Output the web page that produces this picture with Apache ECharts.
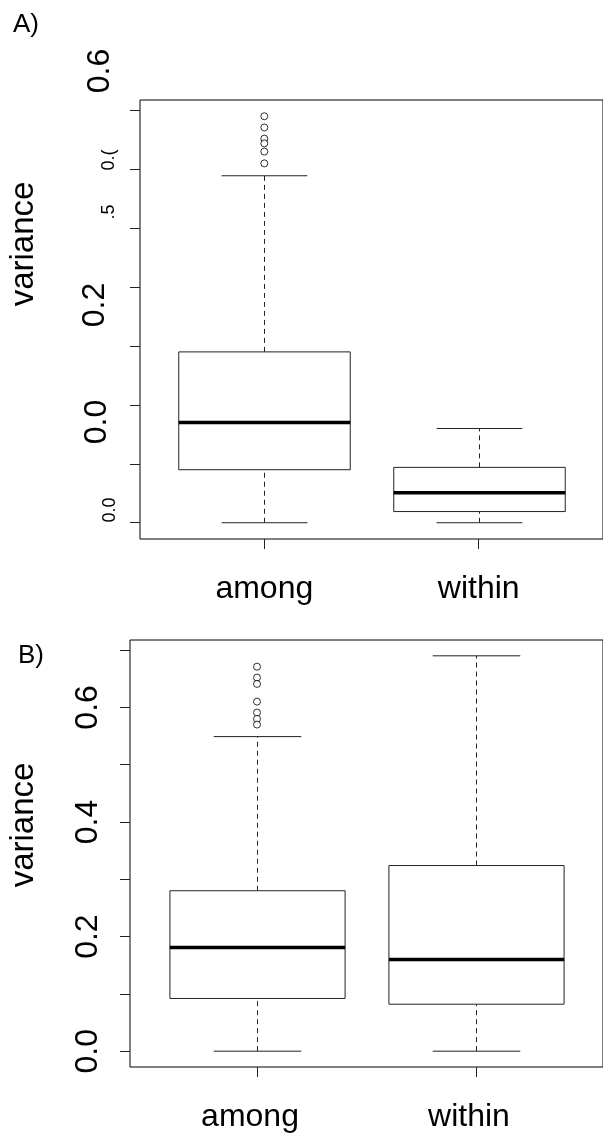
<!DOCTYPE html>
<html>
<head>
<meta charset="utf-8">
<script src="https://cdn.jsdelivr.net/npm/echarts@6/dist/echarts.min.js"></script>
<style>
  html, body { margin: 0; padding: 0; background: #fff; }
  #chart { width: 603px; height: 1135px; }
</style>
</head>
<body>
<div id="chart"></div>
<script>
// groups on the x axis
var groups = ['among', 'within'];

// panel A: [low whisker, Q1, median, Q3, high whisker] per group
var statsA_among = [0, 0.090, 0.170, 0.290, 0.589];
var statsA_within = [0, 0.019, 0.051, 0.094, 0.160];
var outliersA_among = [0.690, 0.671, 0.652, 0.644, 0.630, 0.610];

// panel B
var statsB_among = [0, 0.092, 0.181, 0.280, 0.549];
var statsB_within = [0, 0.082, 0.160, 0.324, 0.690];
var outliersB_among = [0.671, 0.652, 0.641, 0.610, 0.591, 0.580, 0.570];

// y ticks (every 0.1) and the labels that R kept in panel B
var yTicks = [0, 0.1, 0.2, 0.3, 0.4, 0.5, 0.6, 0.7];
var yLabelsB = [0, 0.2, 0.4, 0.6];
// panel A's tick labels came out scrambled in the original picture
var yLabelsA = ['0.6', '0.(', '.5', '0.2', '0.0', '0.0'];

var FONT = '"Liberation Sans", Arial, sans-serif';

var myChart = echarts.init(document.getElementById('chart'));

// draws one R style boxplot: dashed whiskers, caps, box, thick median
function renderBox(params, api) {
  var x = api.value(0);
  var pLo = api.coord([x, api.value(1)]);
  var pQ1 = api.coord([x, api.value(2)]);
  var pMed = api.coord([x, api.value(3)]);
  var pQ3 = api.coord([x, api.value(4)]);
  var pHi = api.coord([x, api.value(5)]);
  var half = api.size([0.4, 0])[0];
  var capHalf = api.size([0.2, 0])[0];
  var cx = Math.round(pMed[0]) + 0.5;
  var dash = { stroke: '#222', lineWidth: 1, lineDash: [5, 4] };
  var solid = { stroke: '#222', lineWidth: 1 };
  return {
    type: 'group',
    children: [
      { type: 'line', shape: { x1: cx, y1: pLo[1], x2: cx, y2: pQ1[1] }, style: dash },
      { type: 'line', shape: { x1: cx, y1: pQ3[1], x2: cx, y2: pHi[1] }, style: dash },
      { type: 'line', shape: { x1: cx - capHalf, y1: pLo[1], x2: cx + capHalf, y2: pLo[1] }, style: solid },
      { type: 'line', shape: { x1: cx - capHalf, y1: pHi[1], x2: cx + capHalf, y2: pHi[1] }, style: solid },
      { type: 'rect', shape: { x: cx - half, y: pQ3[1], width: half * 2, height: pQ1[1] - pQ3[1] },
        style: { fill: '#fff', stroke: '#222', lineWidth: 1 } },
      { type: 'line', shape: { x1: cx - half, y1: pMed[1], x2: cx + half, y2: pMed[1] },
        style: { stroke: '#000', lineWidth: 3.5 } }
    ]
  };
}

function boxData(a, b) {
  return [[1].concat(a), [2].concat(b)];
}
function outlierData(list) {
  return list.map(function (v) { return [1, v]; });
}

function xAxisFor(gridIndex, pad) {
  return {
    type: 'value', gridIndex: gridIndex, min: 0.42, max: 2.58,
    splitLine: { show: false },
    axisLine: { show: false, onZero: false },
    axisTick: { show: true, customValues: [1, 2], length: 10, lineStyle: { color: '#222' } },
    axisLabel: {
      customValues: [1, 2], margin: 34, fontSize: 32, fontFamily: FONT, color: '#000',
      padding: pad,
      formatter: function (v) { return groups[Math.round(v) - 1]; }
    }
  };
}

function yAxisFor(gridIndex, labels) {
  return {
    type: 'value', gridIndex: gridIndex, min: -0.0276, max: 0.7176,
    splitLine: { show: false },
    axisLine: { show: false, onZero: false },
    axisTick: { show: true, customValues: yTicks, length: 10, lineStyle: { color: '#222' } },
    axisLabel: {
      show: labels.length > 0, customValues: labels, rotate: 90, margin: 26,
      fontSize: 32, fontFamily: FONT, color: '#000',
      formatter: function (v) { return v.toFixed(1); }
    }
  };
}

function rotText(txt, x, y, size) {
  return {
    type: 'text', x: x, y: y, rotation: Math.PI / 2,
    style: { text: txt, fontSize: size, fontFamily: FONT, fill: '#000',
             align: 'center', verticalAlign: 'middle', textAlign: 'center', textVerticalAlign: 'middle' }
  };
}

var labelPosA = [[100, 71, 32], [109, 160, 18], [109, 212, 18], [95, 305, 32], [97, 422, 32], [110, 510, 18]];

var graphics = [
  { type: 'text', left: 13, top: 12, style: { text: 'A)', fontSize: 26, fontFamily: FONT, fill: '#000' } },
  { type: 'text', left: 18, top: 643, style: { text: 'B)', fontSize: 26, fontFamily: FONT, fill: '#000' } },
  rotText('variance', 24, 244, 33),
  rotText('variance', 24, 825, 33)
];
yLabelsA.forEach(function (t, i) {
  var p = labelPosA[i];
  graphics.push(rotText(t, p[0], p[1], p[2]));
});

var option = {
  animation: false,
  backgroundColor: '#fff',
  grid: [
    { left: 140, top: 100, width: 467, height: 439, show: true, borderColor: '#000', borderWidth: 1, backgroundColor: 'transparent' },
    { left: 130, top: 640, width: 476, height: 427, show: true, borderColor: '#000', borderWidth: 1, backgroundColor: 'transparent' }
  ],
  xAxis: [xAxisFor(0, [0, 0, 0, 0]), xAxisFor(1, [0, 14, 0, 0])],
  yAxis: [yAxisFor(0, []), yAxisFor(1, yLabelsB)],
  graphic: { elements: graphics },
  series: [
    { type: 'custom', xAxisIndex: 0, yAxisIndex: 0, renderItem: renderBox, clip: false,
      encode: { x: 0, y: [1, 2, 3, 4, 5] }, data: boxData(statsA_among, statsA_within) },
    { type: 'scatter', xAxisIndex: 0, yAxisIndex: 0, symbol: 'circle', symbolSize: 7,
      itemStyle: { color: '#fff', borderColor: '#000', borderWidth: 1 }, data: outlierData(outliersA_among) },
    { type: 'custom', xAxisIndex: 1, yAxisIndex: 1, renderItem: renderBox, clip: false,
      encode: { x: 0, y: [1, 2, 3, 4, 5] }, data: boxData(statsB_among, statsB_within) },
    { type: 'scatter', xAxisIndex: 1, yAxisIndex: 1, symbol: 'circle', symbolSize: 7,
      itemStyle: { color: '#fff', borderColor: '#000', borderWidth: 1 }, data: outlierData(outliersB_among) }
  ]
};

myChart.setOption(option);
</script>
</body>
</html>
